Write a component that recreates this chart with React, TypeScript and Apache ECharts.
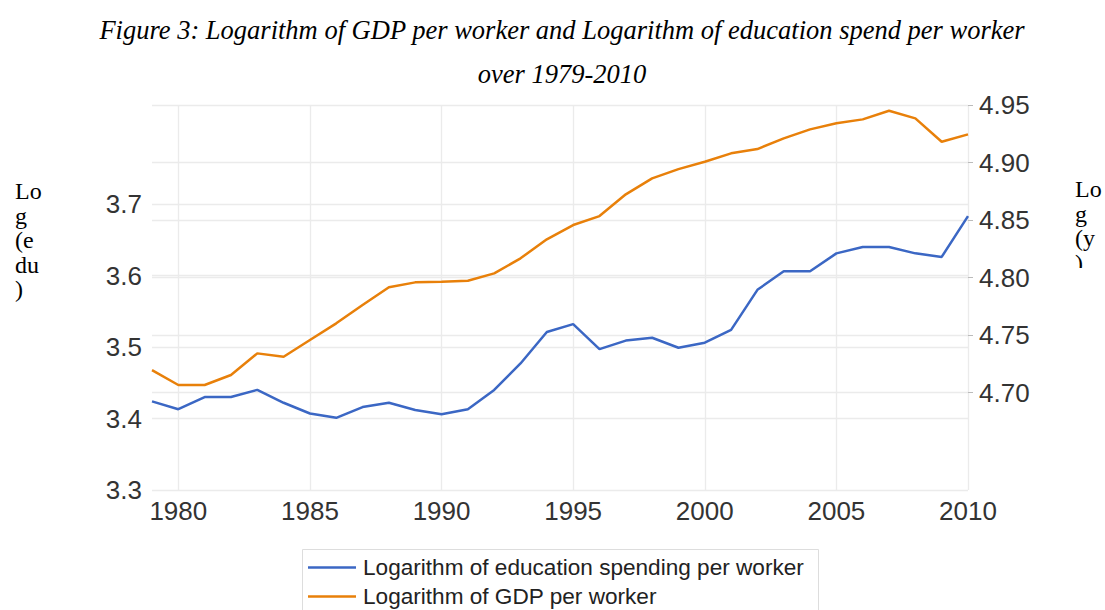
import React, { useEffect, useRef } from "react";
import * as echarts from "echarts";

const years = [1979,1980,1981,1982,1983,1984,1985,1986,1987,1988,1989,1990,1991,1992,1993,1994,1995,1996,1997,1998,1999,2000,2001,2002,2003,2004,2005,2006,2007,2008,2009,2010];
const eduLog = [3.424,3.413,3.430,3.430,3.440,3.422,3.407,3.401,3.416,3.422,3.412,3.406,3.413,3.440,3.477,3.521,3.532,3.497,3.509,3.513,3.499,3.506,3.524,3.580,3.606,3.606,3.631,3.640,3.640,3.631,3.626,3.683];
const gdpLog = [4.7197,4.7067,4.7067,4.7154,4.7342,4.7313,4.7458,4.7603,4.7762,4.7916,4.7959,4.7964,4.7973,4.8037,4.8168,4.8333,4.8457,4.8535,4.8724,4.8863,4.8943,4.9007,4.9080,4.9117,4.9210,4.9288,4.9341,4.9375,4.9450,4.9384,4.9181,4.9245];
const xTicks = [1980,1985,1990,1995,2000,2005,2010];
const leftTicks = [3.3,3.4,3.5,3.6,3.7];
const rightTicks = [4.70,4.75,4.80,4.85,4.90,4.95];
const seriesNames = ["Logarithm of education spending per worker", "Logarithm of GDP per worker"];
const titleLines = ["Figure 3: Logarithm of GDP per worker and Logarithm of education spend per worker", "over 1979-2010"];

export default function App() {
  const ref = useRef<HTMLDivElement>(null);
  useEffect(() => {
    document.body.style.margin = "0";
    const chart = echarts.init(ref.current!, null, { renderer: "svg" });
    const sans = "'Liberation Sans', Arial, sans-serif";
    const serif = "'Liberation Serif', 'Times New Roman', serif";
    const grid = "#ebebeb";
    chart.setOption({
      animation: false,
      backgroundColor: "#ffffff",
      grid: { left: 152, right: 137, top: 105, bottom: 120 },
      xAxis: {
        type: "value",
        min: 1979,
        max: 2010,
        axisLine: { show: false },
        axisTick: { show: false, customValues: xTicks },
        axisLabel: { customValues: xTicks, fontSize: 26, color: "#333", fontFamily: sans, margin: 8, formatter: (v: number) => String(v) },
        splitLine: { show: true, lineStyle: { color: grid, width: 1.3 } },
      },
      yAxis: [
        {
          type: "value",
          position: "left",
          min: 3.3,
          max: 3.8385,
          axisLine: { show: false },
          axisTick: { show: false, customValues: leftTicks },
          axisLabel: { customValues: leftTicks, fontSize: 26, color: "#333", fontFamily: sans, margin: 10, formatter: (v: number) => v.toFixed(1) },
          splitLine: { show: true, lineStyle: { color: grid, width: 1.3 } },
        },
        {
          type: "value",
          position: "right",
          min: 4.6155,
          max: 4.95,
          axisLine: { show: false },
          axisTick: { show: true, length: 5, inside: false, customValues: rightTicks, lineStyle: { color: "#bbb" } },
          axisLabel: { customValues: rightTicks, fontSize: 26, color: "#333", fontFamily: sans, margin: 11, formatter: (v: number) => v.toFixed(2) },
          splitLine: { show: true, lineStyle: { color: grid, width: 1.3 } },
        },
      ],
      legend: {
        orient: "vertical",
        left: 308,
        top: 556,
        icon: "rect",
        itemWidth: 48,
        itemHeight: 2.5,
        itemGap: 6,
        padding: 0,
        textStyle: { fontSize: 22.6, color: "#222", fontFamily: sans, lineHeight: 23, padding: [0, 0, 0, 2] },
        data: seriesNames,
      },
      series: [
        {
          name: seriesNames[0],
          type: "line",
          yAxisIndex: 0,
          symbol: "none",
          data: years.map((y, i) => [y, eduLog[i]]),
          lineStyle: { color: "#3b67c4", width: 2.5 },
          itemStyle: { color: "#3b67c4" },
        },
        {
          name: seriesNames[1],
          type: "line",
          yAxisIndex: 1,
          symbol: "none",
          data: years.map((y, i) => [y, gdpLog[i]]),
          lineStyle: { color: "#e8800a", width: 2.5 },
          itemStyle: { color: "#e8800a" },
        },
      ],
      graphic: [
        {
          type: "text",
          x: 562,
          y: 30,
          style: { text: titleLines[0], fontSize: 26.5, fontStyle: "italic", fontFamily: serif, fill: "#000", align: "center", verticalAlign: "middle" },
        },
        {
          type: "text",
          x: 562,
          y: 74,
          style: { text: titleLines[1], fontSize: 26.5, fontStyle: "italic", fontFamily: serif, fill: "#000", align: "center", verticalAlign: "middle" },
        },
        {
          type: "text",
          x: 15,
          y: 179,
          style: { text: "Lo\ng\n(e\ndu\n)", fontSize: 24, lineHeight: 24.5, fontFamily: serif, fill: "#000" },
        },
        {
          type: "text",
          x: 1075,
          y: 177,
          style: { text: "Lo\ng\n(y\n)", fontSize: 24, lineHeight: 24.5, fontFamily: serif, fill: "#000" },
        },
        {
          type: "rect",
          shape: { x: 1068, y: 268, width: 37, height: 30 },
          style: { fill: "#ffffff" },
          z: 100,
        },
        {
          type: "rect",
          shape: { x: 302.5, y: 549.5, width: 516, height: 80 },
          style: { fill: "none", stroke: "#dddddd", lineWidth: 1 },
        },
      ],
    });
    return () => chart.dispose();
  }, []);
  return <div ref={ref} style={{ width: 1105, height: 610 }} />;
}
